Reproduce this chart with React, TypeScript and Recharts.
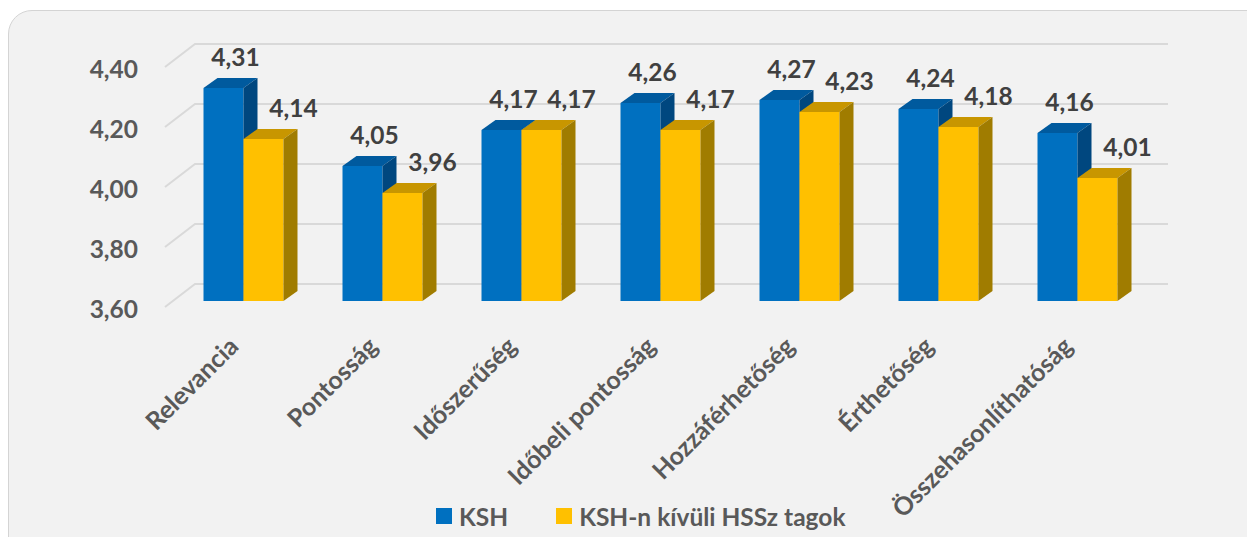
import { BarChart, Bar, XAxis, YAxis, CartesianGrid, Legend, LabelList } from "recharts";

const categories = [
  "Relevancia",
  "Pontosság",
  "Időszerűség",
  "Időbeli pontosság",
  "Hozzáférhetőség",
  "Érthetőség",
  "Összehasonlíthatóság",
];
const kshValues = [4.31, 4.05, 4.17, 4.26, 4.27, 4.24, 4.16];
const otherValues = [4.14, 3.96, 4.17, 4.17, 4.23, 4.18, 4.01];
const yTicks = [3.6, 3.8, 4.0, 4.2, 4.4];
const seriesNames = ["KSH", "KSH-n kívüli HSSz tagok"];

const data = categories.map((name, i) => ({
  name,
  ksh: kshValues[i],
  other: otherValues[i],
}));

const FONT = "Lato, 'Open Sans', sans-serif";
const DX = 14; // depth of the 3d bars
const DY = 10;

const fmt = (v: number) => v.toFixed(2).replace(".", ",");

function Bar3D(props: any) {
  const { x, y, width, height, front, top, side } = props;
  if (height == null || width == null) return null;
  return (
    <g>
      <rect x={x} y={y} width={width} height={height} fill={front} />
      <polygon
        points={`${x},${y} ${x + DX},${y - DY} ${x + width + DX},${y - DY} ${x + width},${y}`}
        fill={top}
      />
      <polygon
        points={`${x + width},${y} ${x + width + DX},${y - DY} ${x + width + DX},${y + height - DY} ${x + width},${y + height}`}
        fill={side}
      />
    </g>
  );
}

const valueLabel = (dx: number) => (p: any) => (
  <text
    x={p.x + p.width / 2 + dx}
    y={p.y - 32}
    textAnchor="middle"
    dominantBaseline="central"
    fill="#404040"
    fontSize={24.5}
    fontWeight="bold"
    fontFamily={FONT}
  >
    {fmt(p.value)}
  </text>
);

function XTick(props: any) {
  const { x, y, payload } = props;
  const tx = x - 3;
  const ty = y + 47;
  return (
    <text
      x={tx}
      y={ty}
      textAnchor="end"
      transform={`rotate(-45 ${tx} ${ty})`}
      fill="#595959"
      fontSize={25}
      fontWeight="bold"
      fontFamily={FONT}
    >
      {payload.value}
    </text>
  );
}

function YTick(props: any) {
  const { x, y, payload } = props;
  return (
    <text
      x={x}
      y={y + 7}
      textAnchor="end"
      dominantBaseline="central"
      fill="#595959"
      fontSize={24.5}
      fontWeight="bold"
      fontFamily={FONT}
    >
      {fmt(payload.value)}
    </text>
  );
}

function GridLine(props: any) {
  const { x1, x2, y1 } = props;
  return (
    <path
      d={`M${x1 - 8.5},${y1 + 6} L${x1 + 21.5},${y1 - 17} L${x2 + 21.5},${y1 - 17}`}
      stroke="#d9d9d9"
      strokeWidth={2}
      fill="none"
    />
  );
}

function LegendBox() {
  const item = (color: string, label: string, gap: number) => (
    <div style={{ display: "flex", alignItems: "center", marginRight: gap }}>
      <span style={{ width: 16, height: 16, background: color, marginRight: 7 }} />
      <span>{label}</span>
    </div>
  );
  return (
    <div
      style={{
        display: "flex",
        alignItems: "center",
        height: 30,
        paddingLeft: 436,
        fontFamily: FONT,
        fontWeight: "bold",
        fontSize: 24.5,
        color: "#595959",
      }}
    >
      {item("#0070C0", seriesNames[0], 48)}
      {item("#FFC000", seriesNames[1], 0)}
    </div>
  );
}

export default function App() {
  return (
    <div
      style={{
        position: "absolute",
        left: 0,
        top: 0,
        width: 1247,
        height: 537,
        background: "#fff",
        overflow: "hidden",
      }}
    >
      <div
        style={{
          position: "absolute",
          left: 8,
          top: 10,
          width: 1270,
          height: 570,
          border: "1.5px solid #d4d4d4",
          borderRadius: 24,
          background: "#f2f2f2",
        }}
      />
      <div style={{ position: "absolute", left: 0, top: 0 }}>
        <BarChart
          width={1247}
          height={537}
          data={data}
          margin={{ top: 61, right: 100.5, left: 113.5, bottom: 6 }}
          barSize={40}
          barGap={0}
        >
          <CartesianGrid vertical={false} horizontal={(p: any) => <GridLine key={p.key} {...p} />} />
          <XAxis
            dataKey="name"
            axisLine={false}
            tickLine={false}
            tickSize={0}
            tickMargin={0}
            interval={0}
            height={200}
            tick={<XTick />}
          />
          <YAxis
            domain={[3.6, 4.4]}
            ticks={yTicks}
            axisLine={false}
            tickLine={false}
            tickSize={0}
            tickMargin={35.5}
            width={60}
            tick={<YTick />}
          />
          <Legend verticalAlign="bottom" wrapperStyle={{ left: 0, width: 1247 }} content={() => <LegendBox />} />
          <Bar
            dataKey="ksh"
            name={seriesNames[0]}
            isAnimationActive={false}
            shape={(p: any) => <Bar3D {...p} front="#0070C0" top="#005A9E" side="#00477F" />}
          >
            <LabelList dataKey="ksh" content={valueLabel(12)} />
          </Bar>
          <Bar
            dataKey="other"
            name={seriesNames[1]}
            isAnimationActive={false}
            shape={(p: any) => <Bar3D {...p} front="#FFC000" top="#C89600" side="#A07C00" />}
          >
            <LabelList dataKey="other" content={valueLabel(30)} />
          </Bar>
        </BarChart>
      </div>
    </div>
  );
}
